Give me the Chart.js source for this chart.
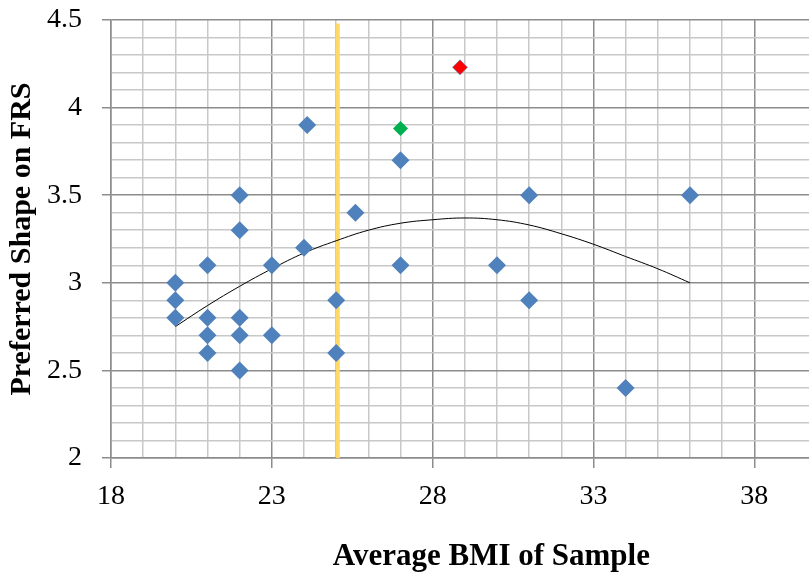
<!DOCTYPE html>
<html>
<head>
<meta charset="utf-8">
<script src="https://cdn.jsdelivr.net/npm/chart.js@4/dist/chart.umd.min.js"></script>
<style>
  html, body { margin: 0; padding: 0; background: #fff; overflow: hidden; }
  #wrap { width: 809px; height: 578px; overflow: hidden; }
</style>
</head>
<body>
<div id="wrap"><canvas id="bmiChart" width="818" height="578"></canvas></div>
<script>
// --- データ ---
const bmiX = [20, 20, 20, 21, 21, 21, 21, 22, 22, 22, 22, 22, 23, 23, 24.1, 24, 25, 25, 25.6, 27, 27, 30, 31, 31, 34, 36];
const shapeY = [3.0, 2.9, 2.8, 3.1, 2.8, 2.7, 2.6, 3.5, 3.3, 2.8, 2.7, 2.5, 3.1, 2.7, 3.9, 3.2, 2.9, 2.6, 3.4, 3.7, 3.1, 3.1, 3.5, 2.9, 2.4, 3.5];

const greenPoint = { x: 27, y: 3.88 };
const redPoint = { x: 28.85, y: 4.23 };

// 近似曲線
const trendX = [20, 21, 22, 23, 24, 25, 26, 27, 28, 29, 30, 31, 32, 33, 34, 35, 36];
const trendY = [2.75, 2.87, 2.98, 3.08, 3.17, 3.24, 3.30, 3.34, 3.36, 3.37, 3.36, 3.33, 3.28, 3.22, 3.15, 3.08, 3.00];

// 縦線（黄色）
const markerX = [25.05, 25.05];
const markerY = [2, 4.48];

const xLabels = [18, 23, 28, 33, 38];
const yLabels = [2, 2.5, 3, 3.5, 4, 4.5];

const xTitle = 'Average BMI of Sample';
const yTitle = 'Preferred Shape on FRS';

// --- ヘルパー ---
const toPoints = (xs, ys) => xs.map((x, i) => ({ x: x, y: ys[i] }));
const isXLabel = v => xLabels.some(l => Math.abs(l - v) < 1e-6);
const isYLabel = v => yLabels.some(l => Math.abs(l - v) < 1e-6);

const serif = "'Liberation Serif', 'DejaVu Serif', serif";

// X軸タイトル（元図では少し右寄り）
const xTitlePlugin = {
    id: 'xTitlePlugin',
    afterDraw(chart) {
        const c = chart.ctx;
        const area = chart.chartArea;
        c.save();
        c.font = `bold 31px ${serif}`;
        c.fillStyle = '#000';
        c.textAlign = 'center';
        c.textBaseline = 'middle';
        c.fillText(xTitle, area.left + (area.right - area.left) * 0.545, 557);
        c.restore();
    }
};

const ctx = document.getElementById('bmiChart').getContext('2d');
const bmiChart = new Chart(ctx, {
    type: 'scatter',
    data: {
        datasets: [
            {
                label: 'marker',
                data: toPoints(markerX, markerY),
                showLine: true,
                borderColor: '#FFD966',
                borderWidth: 4,
                pointRadius: 0,
                order: 4
            },
            {
                label: 'trend',
                data: toPoints(trendX, trendY),
                showLine: true,
                borderColor: '#000000',
                borderWidth: 1,
                pointRadius: 0,
                tension: 0.4,
                order: 3
            },
            {
                label: 'samples',
                data: toPoints(bmiX, shapeY),
                pointStyle: 'rectRot',
                pointRadius: 9,
                backgroundColor: '#4F81BD',
                borderColor: '#4F81BD',
                borderWidth: 0,
                order: 2
            },
            {
                label: 'green',
                data: [greenPoint],
                pointStyle: 'rectRot',
                pointRadius: 7.5,
                backgroundColor: '#00B050',
                borderColor: '#00B050',
                borderWidth: 0,
                order: 1
            },
            {
                label: 'red',
                data: [redPoint],
                pointStyle: 'rectRot',
                pointRadius: 7.5,
                backgroundColor: '#FF0000',
                borderColor: '#4F81BD',
                borderWidth: 0.6,
                order: 0
            }
        ]
    },
    options: {
        responsive: false,
        animation: false,
        layout: { padding: { top: 20, right: 0, left: 0, bottom: 0 } },
        plugins: {
            legend: { display: false },
            tooltip: { enabled: false }
        },
        scales: {
            x: {
                type: 'linear',
                min: 18,
                max: 39.7,
                afterBuildTicks: scale => {
                    scale.ticks = scale.ticks.filter(t => Math.abs(t.value - Math.round(t.value)) < 1e-6);
                },
                afterFit: scale => {
                    scale.height = 120;
                },
                ticks: {
                    stepSize: 1,
                    autoSkip: false,
                    maxRotation: 0,
                    padding: 12,
                    color: '#000',
                    font: { family: serif, size: 28 },
                    callback: v => isXLabel(v) ? String(v) : ''
                },
                grid: {
                    color: c => isXLabel(c.tick.value) ? '#8c8c8c' : '#c8c8c8',
                    tickColor: c => isXLabel(c.tick.value) ? '#8c8c8c' : 'rgba(0,0,0,0)',
                    tickLength: 10,
                    lineWidth: 1.5
                },
                border: { color: '#8c8c8c', width: 1.5 },
                title: { display: false }
            },
            y: {
                type: 'linear',
                min: 2,
                max: 4.5,
                afterFit: scale => {
                    scale.width = 111;
                    scale.paddingTop = 0;
                    scale.paddingBottom = 0;
                },
                ticks: {
                    stepSize: 0.1,
                    autoSkip: false,
                    padding: 20,
                    color: '#000',
                    font: { family: serif, size: 28 },
                    callback: v => isYLabel(v) ? String(Number(v.toFixed(1))) : ''
                },
                grid: {
                    color: c => isYLabel(c.tick.value) ? '#8c8c8c' : '#c8c8c8',
                    tickColor: c => isYLabel(c.tick.value) ? '#8c8c8c' : 'rgba(0,0,0,0)',
                    tickLength: 9,
                    lineWidth: 1.5
                },
                border: { color: '#8c8c8c', width: 1.5 },
                title: {
                    display: true,
                    text: yTitle,
                    color: '#000',
                    font: { family: serif, size: 30, weight: 'bold' },
                    padding: { top: 4, bottom: 0 }
                }
            }
        }
    },
    plugins: [xTitlePlugin]
});
</script>
</body>
</html>
